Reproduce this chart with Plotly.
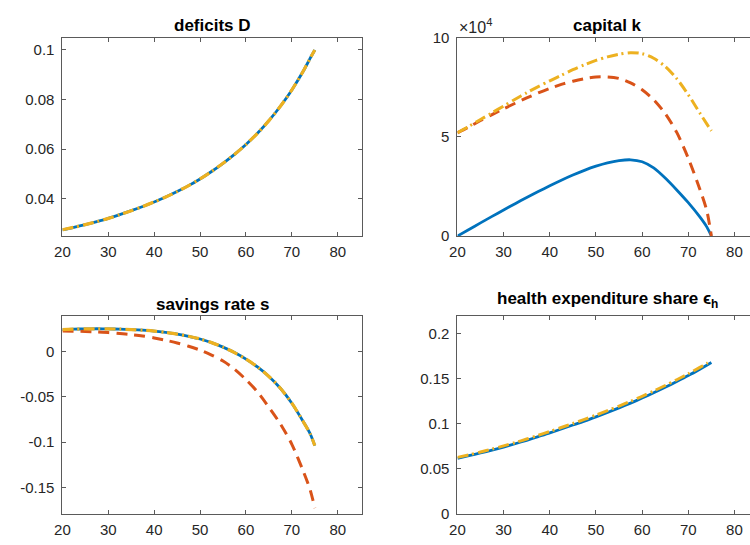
import plotly.graph_objects as go

# ---------------- data ----------------
age = [20, 22.5, 25, 27.5, 30, 32.5, 35, 37.5, 40, 42.5, 45, 47.5, 50, 52.5, 55,
       57.5, 60, 62.5, 65, 67.5, 70, 72.5, 74, 75]

deficit_blue = [0.0275, 0.0285, 0.0296, 0.0308, 0.0321, 0.0336, 0.0352, 0.0369, 0.0387,
                0.0407, 0.0429, 0.0453, 0.0480, 0.0510, 0.0543, 0.0579, 0.0619, 0.0664,
                0.0715, 0.0773, 0.0839, 0.0915, 0.0967, 0.1000]
deficit_yellow = deficit_blue

capital_blue = [0, 3300, 6600, 9900, 13100, 16300, 19400, 22400, 25300, 28100, 30700,
                33100, 35200, 36900, 38000, 38400, 37400, 34300, 29200, 23200, 16800,
                9600, 4600, 0]
capital_orange = [52000, 55000, 58200, 61200, 64100, 66900, 69600, 72100, 74400, 76400,
                  78000, 79300, 80100, 80200, 79400, 77200, 73700, 68700, 61700, 52200,
                  39200, 23600, 12800, 0]
capital_yellow = [52000, 55300, 58700, 62100, 65500, 68900, 72200, 75300, 78200, 81000,
                  83800, 86300, 88500, 90300, 91600, 92400, 91900, 89600, 85500, 79300,
                  71200, 62000, 56500, 53000]

savings_blue = [0.0242, 0.0247, 0.0250, 0.0251, 0.0250, 0.0247, 0.0242, 0.0235, 0.0225,
                0.0210, 0.0192, 0.0168, 0.0138, 0.0098, 0.0048, -0.0012, -0.0084, -0.0171,
                -0.0276, -0.0406, -0.0571, -0.0776, -0.0910, -0.1040]
savings_orange = [0.0225, 0.0224, 0.0221, 0.0216, 0.0209, 0.0199, 0.0187, 0.0171, 0.0150,
                  0.0124, 0.0094, 0.0058, 0.0015, -0.0040, -0.0105, -0.0195, -0.0310,
                  -0.0445, -0.0617, -0.0800, -0.1025, -0.1325, -0.1530, -0.1730]
savings_yellow = savings_blue

health_blue = [0.0615, 0.0644, 0.0674, 0.0706, 0.0740, 0.0777, 0.0815, 0.0856, 0.0897,
               0.0941, 0.0985, 0.1029, 0.1076, 0.1125, 0.1176, 0.1229, 0.1285, 0.1344,
               0.1405, 0.1469, 0.1535, 0.1606, 0.1650, 0.1680]
health_yellow = [0.0625, 0.0654, 0.0685, 0.0718, 0.0753, 0.0790, 0.0829, 0.0871, 0.0913,
                 0.0957, 0.1002, 0.1047, 0.1095, 0.1145, 0.1196, 0.1249, 0.1305, 0.1364,
                 0.1425, 0.1489, 0.1555, 0.1626, 0.1670, 0.1700]

titles = ["<b>deficits D</b>", "<b>capital k</b>", "<b>savings rate s</b>",
          "<b>health expenditure share ϵ<sub>h</sub></b>"]

yt_D = [0.04, 0.06, 0.08, 0.1]
yt_D_txt = ["0.04", "0.06", "0.08", "0.1"]
yt_k = [0, 50000, 100000]
yt_k_txt = ["0", "5", "10"]
yt_s = [-0.15, -0.1, -0.05, 0]
yt_s_txt = ["-0.15", "-0.1", "-0.05", "0"]
yt_h = [0, 0.05, 0.1, 0.15, 0.2]
yt_h_txt = ["0", "0.05", "0.1", "0.15", "0.2"]
xt = [20, 30, 40, 50, 60, 70, 80]

BLUE = "#0072BD"
ORANGE = "#D95319"
YELLOW = "#EDB120"

W, H = 750, 545
FONT = "Liberation Sans, Arial, Helvetica, sans-serif"

fig = go.Figure()


def add_line(x, y, color, dash, width, xa, ya):
    fig.add_trace(go.Scatter(x=x, y=y, mode="lines", xaxis=xa, yaxis=ya,
                             line=dict(color=color, dash=dash, width=width,
                                       shape="spline", smoothing=0.8),
                             showlegend=False, hoverinfo="skip"))


SOLID_W = 2.8
DASH = "11px,7px"
DASHDOT = "11px,4px,2px,4px"

add_line(age, deficit_blue, BLUE, "solid", SOLID_W, "x", "y")
add_line(age, deficit_yellow, YELLOW, DASHDOT, 3.2, "x", "y")

add_line(age, capital_blue, BLUE, "solid", SOLID_W, "x2", "y2")
add_line(age, capital_orange, ORANGE, DASH, 3.0, "x2", "y2")
add_line(age, capital_yellow, YELLOW, DASHDOT, 3.0, "x2", "y2")

add_line(age, savings_blue, BLUE, "solid", SOLID_W, "x3", "y3")
add_line(age, savings_orange, ORANGE, DASH, 3.0, "x3", "y3")
add_line(age, savings_yellow, YELLOW, DASHDOT, 3.2, "x3", "y3")

add_line(age, health_blue, BLUE, "solid", SOLID_W, "x4", "y4")
add_line(age, health_yellow, YELLOW, DASHDOT, 3.0, "x4", "y4")

# pixel geometry
L_x0, L_x1 = 55, 358
R_x0, R_x1 = 454.3, 750
T_y0, T_y1 = 29.5, 234.3
B_y0, B_y1 = 316.7, 520.8


def px_dom_x(a, b):
    return [a / W, b / W]


def px_dom_y(top, bot):
    return [1 - bot / H, 1 - top / H]


AXC = "#5a5a5a"
TICKFONT = dict(family=FONT, size=15, color="#262626")

left_range_end = 20 + (L_x1 - L_x0) / ((333.3 - L_x0) / 60)
right_range_end = 20 + (R_x1 - R_x0) / ((734.3 - R_x0) / 60)


def xax(dom, anchor, rend):
    return dict(domain=dom, anchor=anchor, range=[20, rend], tickvals=xt,
                ticks="inside", ticklen=4, tickcolor=AXC, showline=True, linecolor=AXC,
                linewidth=1, mirror="ticks", showgrid=False, zeroline=False,
                tickfont=TICKFONT, ticklabelstandoff=2)


def yax(dom, anchor, rng, tv, tt, mirror="ticks"):
    return dict(domain=dom, anchor=anchor, range=rng, tickvals=tv, ticktext=tt,
                ticks="inside", ticklen=4, tickcolor=AXC, showline=True, linecolor=AXC,
                linewidth=1, mirror=mirror, showgrid=False, zeroline=False,
                tickfont=TICKFONT, ticklabelstandoff=4)


fig.update_layout(
    width=W, height=H,
    margin=dict(l=0, r=0, t=0, b=0),
    paper_bgcolor="white", plot_bgcolor="white",
    font=dict(family=FONT),
    xaxis=xax(px_dom_x(L_x0, L_x1), "y", left_range_end),
    yaxis=yax(px_dom_y(T_y0, T_y1), "x", [0.025, 0.105], yt_D, yt_D_txt),
    xaxis2=xax(px_dom_x(R_x0, R_x1), "y2", right_range_end),
    yaxis2=yax(px_dom_y(T_y0, T_y1), "x2", [0, 100000], yt_k, yt_k_txt, mirror=False),
    xaxis3=xax(px_dom_x(L_x0, L_x1), "y3", left_range_end),
    yaxis3=yax(px_dom_y(B_y0, B_y1), "x3", [-0.179, 0.0394], yt_s, yt_s_txt),
    xaxis4=xax(px_dom_x(R_x0, R_x1), "y4", right_range_end),
    yaxis4=yax(px_dom_y(B_y0, B_y1), "x4", [0, 0.22], yt_h, yt_h_txt, mirror=False),
)

TITLEFONT = dict(family=FONT, size=17, color="black")
title_pos = [((L_x0 + L_x1) / 2, 17), ((R_x0 + 757) / 2, 17),
             ((L_x0 + L_x1) / 2, 305), ((R_x0 + 757) / 2, 300)]
for t, (cx, cy) in zip(titles, title_pos):
    fig.add_annotation(text=t, x=cx / W, y=1 - cy / H, xref="paper", yref="paper",
                       xanchor="center", yanchor="middle", showarrow=False, font=TITLEFONT)

fig.add_annotation(text="×10<sup>4</sup>", x=454 / W, y=1 - 18 / H, xref="paper",
                   yref="paper", xanchor="left", yanchor="middle", showarrow=False,
                   font=dict(family=FONT, size=16, color="#262626"))

fig.write_html("out.html")
